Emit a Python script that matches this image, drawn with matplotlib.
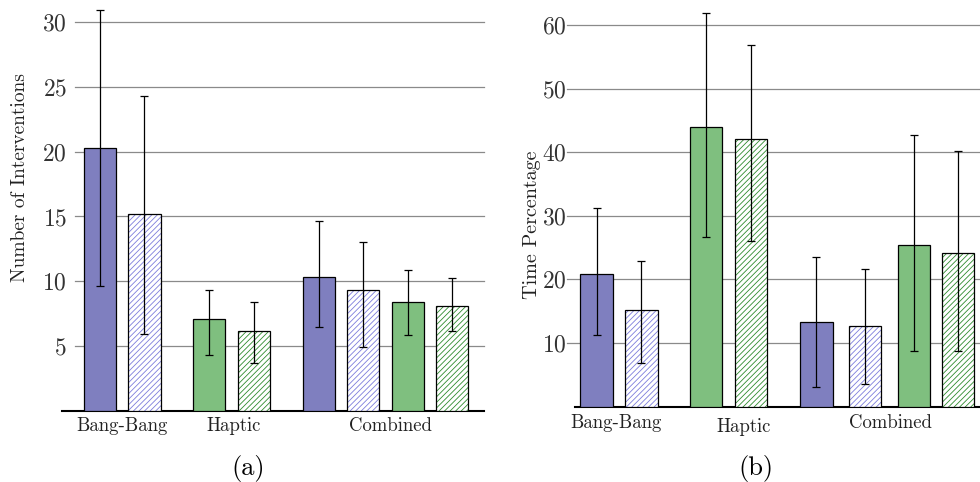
import matplotlib
matplotlib.use("Agg")
import matplotlib.pyplot as plt
from matplotlib.transforms import blended_transform_factory

plt.rcParams['font.family'] = 'cmr10'
plt.rcParams['mathtext.fontset'] = 'cm'
plt.rcParams['axes.formatter.use_mathtext'] = True
plt.rcParams['hatch.linewidth'] = 0.6

groups = ['Bang-Bang', 'Haptic', 'Combined']
styles = ['blue', 'blue_hatch', 'green', 'green_hatch',
          'blue', 'blue_hatch', 'green', 'green_hatch']

# (a) number of interventions: mean and error bar ends
interv_mean = [20.3, 15.2, 7.1, 6.2, 10.3, 9.3, 8.4, 8.1]
interv_low = [9.65, 5.9, 4.3, 3.7, 6.5, 4.95, 5.85, 6.2]
interv_high = [30.9, 24.3, 9.35, 8.4, 14.65, 13.05, 10.9, 10.25]

# (b) time percentage: mean and error bar ends
time_mean = [20.9, 15.2, 43.9, 42.0, 13.3, 12.7, 25.4, 24.1]
time_low = [11.3, 6.8, 26.6, 26.1, 3.0, 3.6, 8.8, 8.8]
time_high = [31.2, 22.9, 61.8, 56.8, 23.5, 21.6, 42.7, 40.1]

pos_a = [0, 1, 2.46, 3.46, 4.92, 5.92, 6.92, 7.92]
pos_b = [0, 1, 2.44, 3.44, 4.89, 5.97, 7.06, 8.04]
label_x_a = [0.5, 3.0, 6.52]
label_x_b = [0.43, 3.26, 6.54]
label_y_a = [0.106, 0.106, 0.106]
label_y_b = [0.112, 0.104, 0.112]

fills = {'blue': '#7f7fbf', 'green': '#7fbf7f'}
hatch_cols = {'blue_hatch': '#7c7cdc', 'green_hatch': '#2e8b2e'}
width = 0.72


def draw_panel(ax, pos, mean, low, high, ticks, ylim, xlim, pad, grid_start):
    for x, m, s in zip(pos, mean, styles):
        if s in fills:
            ax.bar(x, m, width, color=fills[s], edgecolor='black', linewidth=0.9, zorder=3)
        else:
            ax.bar(x, m, width, color='white', edgecolor=hatch_cols[s], hatch='//////',
                   linewidth=0, zorder=3)
            ax.bar(x, m, width, fill=False, edgecolor='black', linewidth=0.9, zorder=4)
    yerr = [[m - l for m, l in zip(mean, low)], [h - m for m, h in zip(mean, high)]]
    ax.errorbar(pos, mean, yerr=yerr, fmt='none', ecolor='black', elinewidth=0.9,
                capsize=3.2, capthick=0.9, zorder=5)
    gt = ax.get_yaxis_transform()
    for t in ticks:
        ax.plot([grid_start, 1], [t, t], color='#8a8a8a', linewidth=0.9,
                transform=gt, clip_on=False, zorder=1)
    ax.set_ylim(*ylim)
    ax.set_xlim(*xlim)
    ax.set_yticks(ticks)
    ax.set_xticks([])
    ax.tick_params(axis='y', length=0, pad=pad, labelsize=17, colors='#333333')
    for sp in ['left', 'right', 'top']:
        ax.spines[sp].set_visible(False)
    ax.spines['bottom'].set_linewidth(1.5)
    ax.patch.set_alpha(0)


fig = plt.figure(figsize=(9.8, 4.82), dpi=100)

ax1 = fig.add_axes([62 / 980, 1 - 411 / 482, 422 / 980, 31.5 * 12.97 / 482])
draw_panel(ax1, pos_a, interv_mean, interv_low, interv_high,
           [5, 10, 15, 20, 25, 30], (0, 31.5), (-0.854, 8.63), -3.6, 0.031)

ax2 = fig.add_axes([575 / 980, 1 - 406.5 / 482, 425 / 980, 63 * 6.36 / 482])
draw_panel(ax2, pos_b, time_mean, time_low, time_high,
           [10, 20, 30, 40, 50, 60], (0, 63), (-0.478, 8.97), 5.8, -0.019)

for ax, xs, ys in [(ax1, label_x_a, label_y_a), (ax2, label_x_b, label_y_b)]:
    tr = blended_transform_factory(ax.transData, fig.transFigure)
    for g, x, y in zip(groups, xs, ys):
        ax.text(x, y, g, transform=tr, ha='center', va='baseline', fontsize=13.5,
                color='#222222')

fig.text(20 / 980, 1 - 178 / 482, 'Number of Interventions', rotation=90,
         ha='center', va='center', fontsize=14, color='#222222')
fig.text(532 / 980, 1 - 225 / 482, 'Time Percentage', rotation=90,
         ha='center', va='center', fontsize=14.5, color='#222222')
fig.text(248 / 980, 1 - 468 / 482, '(a)', ha='center', va='center', fontsize=19)
fig.text(756 / 980, 1 - 468 / 482, '(b)', ha='center', va='center', fontsize=19)

fig.savefig('out.png', dpi=100)
